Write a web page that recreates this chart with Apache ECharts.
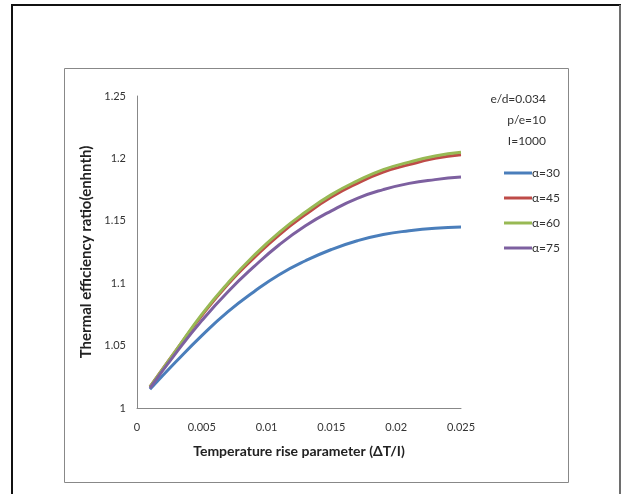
<!DOCTYPE html>
<html lang="en">
<head>
    <meta charset="UTF-8"/>
    <title>Thermal efficiency ratio</title>
    <script src="https://cdn.jsdelivr.net/npm/echarts@6/dist/echarts.min.js"></script>
    <style>
        body { margin: 0; background: #fff; }
        #chart { width: 621px; height: 494px; }
    </style>
</head>
<body>
<div id="chart"></div>
<script>
    // x values (temperature rise parameter)
    const xValues = [0.001, 0.003, 0.005, 0.007, 0.009, 0.011, 0.013, 0.015, 0.017, 0.019, 0.021, 0.023, 0.025];
    const alpha30 = [1.015, 1.037, 1.058, 1.077, 1.093, 1.107, 1.118, 1.127, 1.134, 1.139, 1.142, 1.144, 1.145];
    const alpha45 = [1.017, 1.046, 1.074, 1.099, 1.120, 1.139, 1.155, 1.169, 1.180, 1.189, 1.195, 1.200, 1.203];
    const alpha60 = [1.017, 1.046, 1.075, 1.100, 1.122, 1.141, 1.157, 1.171, 1.182, 1.191, 1.197, 1.202, 1.205];
    const alpha75 = [1.016, 1.044, 1.070, 1.093, 1.113, 1.131, 1.146, 1.158, 1.168, 1.175, 1.180, 1.183, 1.185];
    const seriesNames = ['α=30', 'α=45', 'α=60', 'α=75'];
    const colors = ['#4a7ebb', '#be4b48', '#98b954', '#7d60a0'];
    const paramLines = ['e/d=0.034', 'p/e=10', 'I=1000'];

    const font = 'Lato, "Open Sans", sans-serif';
    const pairs = ys => xValues.map((x, i) => [x, ys[i]]);
    const allData = [alpha30, alpha45, alpha60, alpha75];

    const chart = echarts.init(document.getElementById('chart'));
    chart.setOption({
        animation: false,
        textStyle: {fontFamily: font},
        grid: {left: 137, right: 160, top: 96, bottom: 86},
        xAxis: {
            type: 'value', min: 0, max: 0.025, interval: 0.005,
            name: 'Temperature rise parameter (ΔT/I)',
            nameLocation: 'middle', nameGap: 36,
            nameTextStyle: {fontWeight: 'bold', fontSize: 14, color: '#222', fontFamily: font},
            axisLine: {lineStyle: {color: '#888'}},
            axisTick: {show: false},
            splitLine: {show: false},
            axisLabel: {color: '#333', fontSize: 11, margin: 14}
        },
        yAxis: {
            type: 'value', min: 1, max: 1.25, interval: 0.05,
            name: 'Thermal efficiency ratio(enhnth)',
            nameLocation: 'middle', nameGap: 40,
            nameTextStyle: {fontWeight: 'bold', fontSize: 15, color: '#222', fontFamily: font},
            axisLine: {show: true, lineStyle: {color: '#888'}},
            axisTick: {show: false},
            splitLine: {show: false},
            axisLabel: {color: '#333', fontSize: 11, margin: 11}
        },
        legend: {
            orient: 'vertical',
            left: 499, top: 162,
            itemGap: 13,
            itemWidth: 28, itemHeight: 3,
            icon: 'rect',
            textStyle: {fontSize: 12, color: '#333', padding: [0, 0, 0, -5]},
            data: seriesNames
        },
        graphic: [
            {type: 'rect', shape: {x: 12, y: 5, width: 608, height: 500},
                style: {fill: 'none', stroke: '#111', lineWidth: 2}, silent: true},
            {type: 'line', shape: {x1: 620, y1: 5, x2: 620, y2: 494},
                style: {stroke: '#ccc', lineWidth: 1}, silent: true},
            {type: 'rect', shape: {x: 64.5, y: 68.5, width: 504, height: 414},
                style: {fill: 'none', stroke: '#888', lineWidth: 1}, silent: true}
        ].concat(paramLines.map((t, i) => ({
            type: 'text', x: 546, y: 99 + i * 21,
            style: {text: t, fill: '#333', font: '12px ' + font, align: 'right', verticalAlign: 'middle'},
            silent: true
        }))),
        series: seriesNames.map((name, i) => ({
            name: name,
            type: 'line',
            smooth: true,
            showSymbol: false,
            data: pairs(allData[i]),
            lineStyle: {color: colors[i], width: 3},
            itemStyle: {color: colors[i]}
        }))
    });
</script>
</body>
</html>
